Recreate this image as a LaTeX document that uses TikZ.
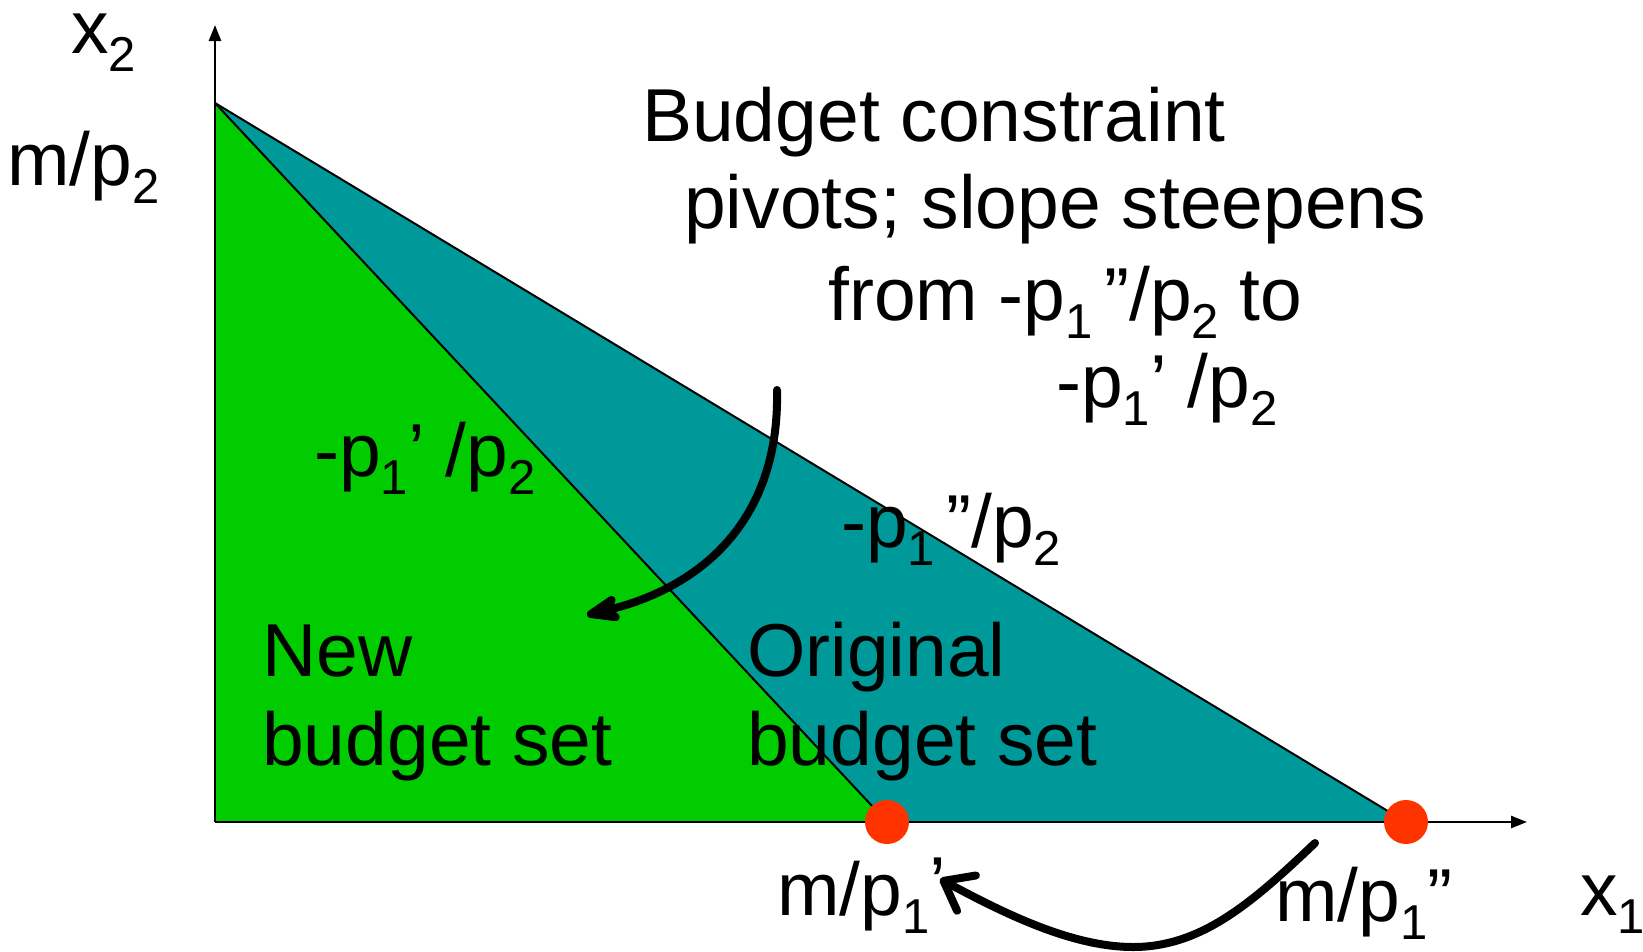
\documentclass[tikz,border=0pt]{standalone}
\usepackage{fontspec}
\setmainfont{Liberation Sans}
\usetikzlibrary{arrows.meta,shapes.geometric}
\definecolor{grn}{RGB}{0,204,0}
\definecolor{teal2}{RGB}{0,153,153}
\definecolor{dotred}{RGB}{255,51,0}
\newcommand\subs[1]{\raisebox{-0.24em}{\fontsize{49}{49}\selectfont #1}}
\begin{document}
\begin{tikzpicture}[x=1pt,y=-1pt,
  lbl/.style={anchor=base west, inner sep=0pt, font=\fontsize{75}{84}\selectfont},
  rdot/.style={circle, fill=dotred, minimum size=44pt, inner sep=0pt},
  hyp/.style={line width=2pt, line join=round},
  axisline/.style={line width=2.5pt, -{Triangle[length=16pt,width=12pt]}},
  pivotarrow/.style={line width=8pt, line cap=round}]
\useasboundingbox (0,0) rectangle (1643,951);
\clip (0,0) rectangle (1643,951);
% vertices
\coordinate (O) at (215,822);
\coordinate (Y) at (215,103);
\coordinate (A) at (887,822);
\coordinate (B) at (1406,822);
\coordinate (Ytip) at (215,25);
\coordinate (Xtip) at (1527,822);
% budget sets
\fill[teal2] (Y) -- (B) -- (O) -- cycle;
\fill[grn] (Y) -- (A) -- (O) -- cycle;
\draw[hyp] (Y) -- (B);
\draw[hyp] (Y) -- (A);
% axes
\draw[axisline] (O) -- (Ytip);
\draw[axisline] (O) -- (Xtip);
% intercept dots
\node[rdot] (dA) at (A) {};
\node[rdot] (dB) at (B) {};
% pivot arrows
\coordinate (c1s) at (777,390);
\coordinate (c1e) at (587,615);
\draw[pivotarrow, -{Stealth[length=46pt,width=34pt,inset=13pt,round]}]
  (c1s) .. controls (780,530) and (690,590) .. (c1e);
\coordinate (c2s) at (1315,843);
\coordinate (c2m) at (1133,947);
\coordinate (c2e) at (940,879);
\draw[pivotarrow, -{Straight Barb[length=26pt,width=40pt,round]}]
  (c2s) .. controls (1250,905) and (1200,947) .. (c2m)
  .. controls (1070,947) and (1000,911) .. (c2e);
% labels
\node[lbl] (x2) at (71,53) {x\subs{2}};
\node[lbl] (my) at (7,185) {m/p\subs{2}};
\node[lbl] (x1) at (1580,915) {x\subs{1}};
\node[lbl] (ma) at (777,915) {m/p\subs{1}\raisebox{0.07em}{’}};
\node[lbl] (mb) at (1275,921) {m/p\subs{1}”};
\node[lbl] (t1) at (642,141) {Budget constraint};
\node[lbl] (t2) at (684,228) {pivots; slope steepens};
\node[lbl] (t3) at (828,320) {from -p\subs{1}\hspace{0.15em}”/p\subs{2} to};
\node[lbl] (t4) at (1056,407) {-p\subs{1}’ /p\subs{2}};
\node[lbl] (sa) at (314,476) {-p\subs{1}’ /p\subs{2}};
\node[lbl] (sb) at (841,547) {-p\subs{1}\hspace{0.15em}”/p\subs{2}};
\node[lbl] (n1) at (262,676) {New};
\node[lbl] (n2) at (262,765) {budget set};
\node[lbl] (o1) at (747,676) {Original};
\node[lbl] (o2) at (747,765) {budget set};
\end{tikzpicture}
\end{document}
